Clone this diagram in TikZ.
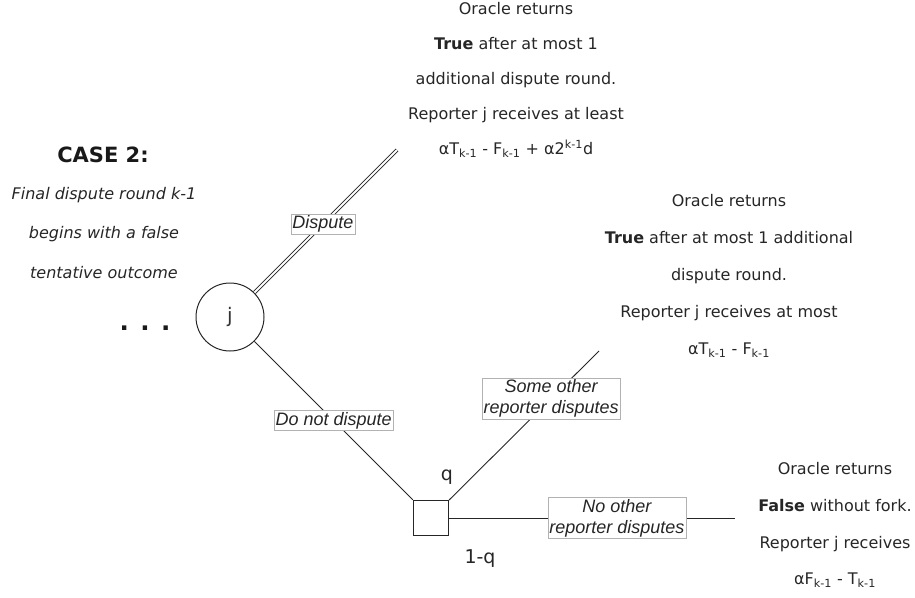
\documentclass[tikz,border=0pt]{standalone}
\usepackage{fontspec}
\setmainfont{DejaVu Sans}
\newfontfamily\labelfont{Liberation Sans}
\usetikzlibrary{positioning}

\tikzstyle{decision} = [circle, draw=black!85, line width=1pt, minimum size=68pt, inner sep=0pt, text=black!80, font=\fontsize{20}{22}\selectfont]
\tikzstyle{chance} = [rectangle, draw=black!85, line width=1.3pt, minimum size=35pt, inner sep=0pt]
\tikzstyle{outcome} = [align=center, text=black!85, font=\fontsize{16}{36}\selectfont]
\tikzstyle{choice} = [rectangle, fill=white, draw=black!30, line width=0.6pt, inner sep=1.5pt, align=center, text=black!85, font=\labelfont\itshape\fontsize{18}{21}\selectfont]
\tikzstyle{branch} = [line width=0.9pt, draw=black!85]
\tikzstyle{prob} = [anchor=base, text=black!85, font=\fontsize{19}{22}\selectfont]

\newcommand{\lowidx}[1]{\textsubscript{#1}}

\begin{document}
\begin{tikzpicture}[x=1pt, y=-1pt]
\useasboundingbox (0,0) rectangle (915,597);

% caption on the left
\node (caseTitle) at (103,155) [text=black!90, font=\bfseries\fontsize{21}{24}\selectfont] {CASE 2:};
\node (caseText) at (104,233) [outcome, font=\itshape\fontsize{16}{39.5}\selectfont] {Final dispute round k-1\\ begins with a false\\ tentative outcome};

% tree
\node (j) [decision] at (230,317) {j};
\node (dots) [anchor=base, text=black!90, font=\bfseries\fontsize{24.5}{28}\selectfont] at (145,330) {. . .};
\node (q) [chance] at (431,518) {};
\coordinate (disputeEnd) at (397,150);
\coordinate (otherEnd) at (599,351);
\coordinate (noneEnd) at (735,518);

\draw [branch, double, double distance=2pt, line width=0.8pt] (j) -- node[choice, pos=0.48] {Dispute} (disputeEnd);
\draw [branch] (j) -- node[choice, pos=0.5] {Do not dispute} (q);
\draw [branch] (q) -- node[choice, pos=0.68] {Some other\\ reporter disputes} (otherEnd);
\draw [branch] (q.east) -- node[choice, pos=0.587] {No other\\ reporter disputes} (noneEnd);

\node (qUp) [prob] at (447,480) {q};
\node (qDown) [prob] at (480,563) {1-q};

% outcomes
\node (topOutcome) [outcome, font=\fontsize{16}{35}\selectfont] at (516,80) {Oracle returns\\ \textbf{True} after at most 1\\ additional dispute round.\\ Reporter j receives at least\\ αT\lowidx{k-1} - F\lowidx{k-1} + α2\textsuperscript{k-1}d};
\node (midOutcome) [outcome, font=\fontsize{16}{37}\selectfont] at (729,276) {Oracle returns\\ \textbf{True} after at most 1 additional\\ dispute round.\\ Reporter j receives at most\\ αT\lowidx{k-1} - F\lowidx{k-1}};
\node (lowOutcome) [outcome, font=\fontsize{16}{36.7}\selectfont] at (835,525) {Oracle returns\\ \textbf{False} without fork.\\ Reporter j receives\\ αF\lowidx{k-1} - T\lowidx{k-1}};

\end{tikzpicture}
\end{document}
